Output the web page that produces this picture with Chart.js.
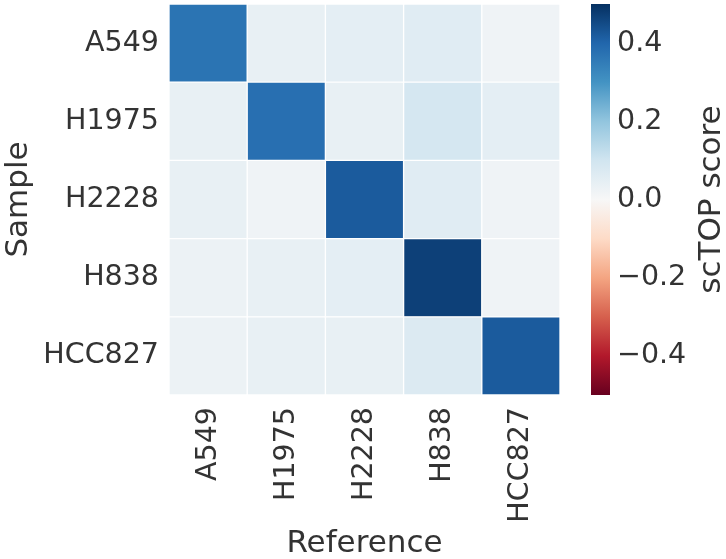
<!DOCTYPE html>
<html>
<head>
<meta charset="utf-8">
<script src="https://cdn.jsdelivr.net/npm/chart.js@4"></script>
<style>
html, body { margin: 0; padding: 0; background: #fff; }
</style>
</head>
<body>
<canvas id="heatmapChart" width="726" height="559"></canvas>
<script>
const references = ['A549', 'H1975', 'H2228', 'H838', 'HCC827'];
const samples = ['A549', 'H1975', 'H2228', 'H838', 'HCC827'];

// scTOP score per sample (row), columns follow references
const rowA549 = [0.37, 0.04, 0.05, 0.06, 0.02];
const rowH1975 = [0.04, 0.38, 0.04, 0.09, 0.05];
const rowH2228 = [0.04, 0.02, 0.42, 0.06, 0.02];
const rowH838 = [0.03, 0.04, 0.05, 0.47, 0.02];
const rowHCC827 = [0.03, 0.04, 0.04, 0.07, 0.42];
const scoreRows = [rowA549, rowH1975, rowH2228, rowH838, rowHCC827];

const colorbarTicks = [-0.4, -0.2, 0, 0.2, 0.4];
const scoreMin = -0.5, scoreMax = 0.5;

// RdBu reversed (low = red, high = blue)
const rdbuR = ['#67001f', '#b2182b', '#d6604d', '#f4a582', '#fddbc7', '#f7f7f7',
               '#d1e5f0', '#92c5de', '#4393c3', '#2166ac', '#053061'];

function hexToRgb(h) {
    return [parseInt(h.slice(1, 3), 16), parseInt(h.slice(3, 5), 16), parseInt(h.slice(5, 7), 16)];
}

function scoreColor(v) {
    let t = (v - scoreMin) / (scoreMax - scoreMin);
    t = Math.max(0, Math.min(1, t));
    const pos = t * (rdbuR.length - 1);
    const i = Math.min(Math.floor(pos), rdbuR.length - 2);
    const f = pos - i;
    const a = hexToRgb(rdbuR[i]), b = hexToRgb(rdbuR[i + 1]);
    const c = a.map((x, k) => Math.round(x + (b[k] - x) * f));
    return `rgb(${c[0]}, ${c[1]}, ${c[2]})`;
}

const textColor = '#333333';
const fontFamily = '"DejaVu Sans", sans-serif';

// one stacked dataset per sample, bottom row first
const datasets = [];
for (let k = samples.length - 1; k >= 0; k--) {
    datasets.push({
        label: samples[k],
        data: references.map(() => 1),
        backgroundColor: scoreRows[k].map(scoreColor),
        borderColor: '#ffffff',
        borderWidth: 1,
        borderSkipped: false,
        barPercentage: 1,
        categoryPercentage: 1
    });
}

const colorbarPlugin = {
    id: 'colorbar',
    afterDraw(chart) {
        const { ctx, chartArea } = chart;
        const cb = chart.scales.cb;
        const x0 = chartArea.right + 31, w = 19;
        const grad = ctx.createLinearGradient(0, cb.bottom, 0, cb.top);
        rdbuR.forEach((c, i) => grad.addColorStop(i / (rdbuR.length - 1), c));
        ctx.save();
        ctx.fillStyle = grad;
        ctx.fillRect(x0, cb.top, w, cb.bottom - cb.top);
        ctx.translate(712, (cb.top + cb.bottom) / 2);
        ctx.rotate(-Math.PI / 2);
        ctx.font = '31px ' + fontFamily;
        ctx.fillStyle = textColor;
        ctx.textAlign = 'center';
        ctx.textBaseline = 'middle';
        ctx.fillText('scTOP score', 0, 0);
        ctx.restore();
    }
};

const ctx = document.getElementById('heatmapChart').getContext('2d');
const heatmapChart = new Chart(ctx, {
    type: 'bar',
    data: { labels: references, datasets: datasets },
    plugins: [colorbarPlugin],
    options: {
        responsive: false,
        animation: false,
        layout: { padding: { top: 4, bottom: 0, left: 0, right: 0 } },
        plugins: { legend: { display: false }, tooltip: { enabled: false } },
        scales: {
            x: {
                stacked: true,
                grid: { display: false },
                border: { display: false },
                ticks: { color: textColor, font: { family: fontFamily, size: 28.5 }, minRotation: 90, maxRotation: 90, padding: 4 },
                title: { display: true, text: 'Reference', color: textColor, font: { family: fontFamily, size: 31 }, padding: { top: 0, bottom: -4 } },
                afterFit(scale) { scale.height = 164; }
            },
            y: {
                stacked: true,
                min: 0,
                max: samples.length,
                grid: { display: false },
                border: { display: false },
                afterBuildTicks(scale) {
                    scale.ticks = samples.map((s, i) => ({ value: i + 0.5 }));
                },
                ticks: {
                    color: textColor,
                    font: { family: fontFamily, size: 28.5 },
                    padding: 2,
                    callback: (v) => samples[samples.length - 1 - Math.floor(v)]
                },
                title: { display: true, text: 'Sample', color: textColor, font: { family: fontFamily, size: 31 }, padding: 0 },
                afterFit(scale) {
                    scale.width = 169;
                    scale.paddingTop = 0;
                    scale.paddingBottom = 0;
                }
            },
            cb: {
                type: 'linear',
                position: 'right',
                min: scoreMin,
                max: scoreMax,
                grid: { display: false, drawTicks: false },
                border: { display: false },
                afterBuildTicks(scale) {
                    scale.ticks = colorbarTicks.map(v => ({ value: v }));
                },
                ticks: {
                    color: textColor,
                    font: { family: fontFamily, size: 28.5 },
                    padding: 57,
                    callback: (v) => (v < 0 ? '\u2212' : '') + Math.abs(v).toFixed(1)
                },
                afterFit(scale) {
                    scale.width = 166;
                    scale.paddingTop = 0;
                    scale.paddingBottom = 0;
                }
            }
        }
    }
});
</script>
</body>
</html>
